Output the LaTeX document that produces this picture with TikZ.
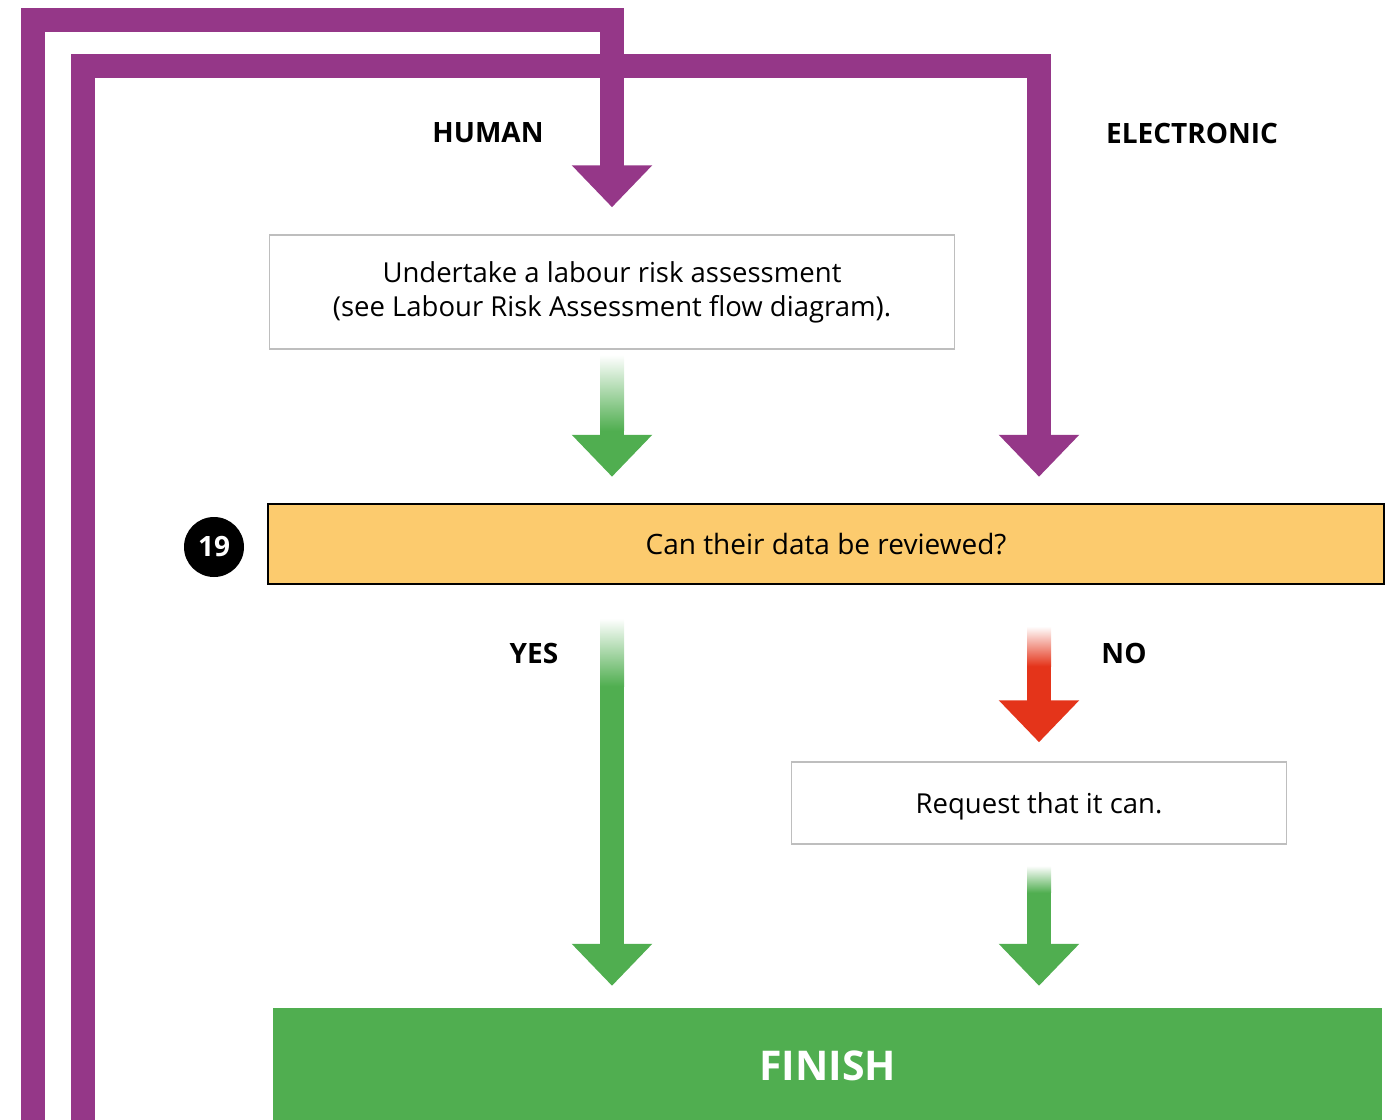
\documentclass[tikz,border=0pt]{standalone}
\usepackage{fontspec}
\setmainfont{Open Sans}
\usetikzlibrary{arrows.meta,calc}
\definecolor{flowpurple}{RGB}{149,55,136}
\definecolor{flowgreen}{RGB}{80,174,80}
\definecolor{flowred}{RGB}{228,52,26}
\definecolor{flowamber}{RGB}{252,203,110}
\definecolor{boxgrey}{RGB}{190,190,190}
\tikzstyle{stepbox}=[draw=boxgrey,line width=1.5pt,fill=white,align=center,inner sep=0pt,font=\fontsize{27.5}{34}\selectfont]
\tikzstyle{question}=[draw=black,line width=2.5pt,fill=flowamber,inner sep=0pt,text depth=0pt,font=\fontsize{28}{30}\selectfont]
\tikzstyle{badge}=[circle,fill=black,text=white,minimum size=60pt,inner sep=0pt,font=\bfseries\fontsize{28}{30}\selectfont]
\tikzstyle{tag}=[font=\bfseries\fontsize{28}{30}\selectfont]
\tikzstyle{flow}=[line width=24pt,-{Triangle[width=78pt,length=42pt]}]
\tikzstyle{route}=[flow,flowpurple]
\tikzstyle{yesflow}=[flow,flowgreen]
\tikzstyle{noflow}=[flow,flowred]

\begin{document}
\begin{tikzpicture}[x=1pt,y=-1pt]
  \useasboundingbox (0,0) rectangle (1396,1119);
  \clip (0,0) rectangle (1396,1119);
  \node[stepbox,minimum width=685pt,minimum height=114pt] (risk) at (612,292)
    {Undertake a labour risk assessment\\(see Labour Risk Assessment flow diagram).};
  \node[question,minimum width=1116pt,minimum height=80pt] (review) at (826,544) {Can their data be reviewed?};
  \node[badge] (num) at (214,547) {19};
  \node[stepbox,text depth=0pt,minimum width=495pt,minimum height=82pt] (request) at (1039,803) {Request that it can.};
  \node[fill=flowgreen,text=white,minimum width=1109pt,minimum height=116pt,inner sep=0pt,
        font=\bfseries\fontsize{41}{50}\selectfont] (finish) at (827.5,1066) {FINISH};
  \foreach \name/\x/\y/\text in {human/488/133/HUMAN, electronic/1192/133/ELECTRONIC,
                                 yes/534/653/YES, no/1124/653/NO}
    \node[tag] (\name) at (\x,\y) {\text};
  % two routes in
  \coordinate (electronicstart) at (83,1140);
  \coordinate (humanstart) at (33,1140);
  \draw[route] (electronicstart) |- (request.north |- 0,66) -- ($(review.north -| request.north)+(0,-26)$);
  \draw[route] (humanstart) |- (risk.north |- 0,20) -- ($(risk.north)+(0,-27)$);
  % outcomes
  \draw[yesflow] ($(risk.south)+(0,5)$) -- ($(review.north -| risk.south)+(0,-26)$);
  \shade[top color=white,bottom color=flowgreen] ($(risk.south)+(-12,5)$) rectangle ++(24,76);
  \draw[yesflow] ($(review.south -| risk.south)+(0,33)$) -- ($(finish.north -| risk.south)+(0,-22)$);
  \shade[top color=white,bottom color=flowgreen] ($(review.south -| risk.south)+(-12,33)$) rectangle ++(24,68);
  \draw[noflow] ($(review.south -| request.north)+(0,41)$) -- ($(request.north)+(0,-19)$);
  \shade[top color=white,bottom color=flowred] ($(review.south -| request.north)+(-12,41)$) rectangle ++(24,40);
  \draw[yesflow] ($(request.south)+(0,21)$) -- ($(finish.north -| request.south)+(0,-22)$);
  \shade[top color=white,bottom color=flowgreen] ($(request.south)+(-12,21)$) rectangle ++(24,27);
\end{tikzpicture}
\end{document}
